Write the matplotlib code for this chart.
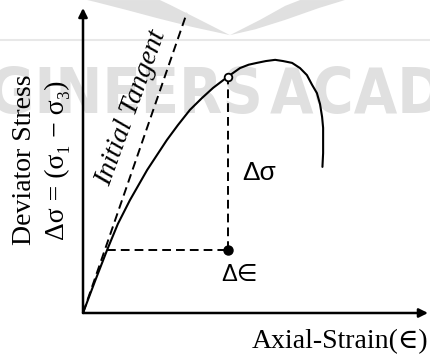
import matplotlib
matplotlib.use("Agg")
import matplotlib.pyplot as plt

# stress-strain curve (arbitrary units, axes run 0..10)
strain = [0.0, 0.35, 0.70, 1.01, 1.36, 1.86, 2.43, 2.75, 3.10, 3.45, 3.77, 4.20,
          4.55, 4.80, 5.04, 5.30, 5.57, 5.80, 6.06, 6.29, 6.49, 6.64, 6.78,
          6.87, 6.93, 6.96, 6.96, 6.96, 6.94]
stress = [0.0, 1.05, 2.07, 2.92, 3.70, 4.69, 5.67, 6.16, 6.66, 7.05, 7.38, 7.75,
          8.03, 8.14, 8.20, 8.26, 8.30, 8.26, 8.20, 8.03, 7.80, 7.48, 7.21,
          6.85, 6.43, 6.07, 5.67, 5.24, 4.79]

# initial tangent
tangent_strain = [0.0, 3.01]
tangent_stress = [0.0, 9.84]

# delta construction
base_strain = 0.70
base_stress = 2.07
point_strain = 4.20
point_stress = 7.75

serif = ['Liberation Serif', 'DejaVu Serif']
sans = ['Liberation Sans', 'DejaVu Sans']

fig = plt.figure(figsize=(4.3, 3.56), dpi=100)
ax = fig.add_axes([0, 0, 1, 1])
ax.set_xlim(-2.406, 10.058)
ax.set_ylim(-1.410, 10.262)
ax.axis('off')

# watermark
wm = '#e0e0e0'
ax.text(5.25, 6.56, 'ENGINEERS', ha='right', va='baseline', fontsize=45,
        family='DejaVu Sans', stretch='condensed', weight='bold', color=wm, zorder=0)
ax.text(5.40, 6.56, 'ACADEMY', ha='left', va='baseline', fontsize=45,
        family='DejaVu Sans', stretch='condensed', weight='bold', color=wm, zorder=0)
ax.axhline(8.95, color='#e8e8e8', lw=1.5, zorder=0)
wing_l_x = [0.12, 2.23, 2.53, 3.39, 4.26, 3.16, 2.14, 1.28, 0.35]
wing_l_y = [10.26, 10.26, 10.10, 9.61, 9.11, 9.38, 9.67, 9.93, 10.20]
wing_r_x = [4.26, 5.13, 5.86, 6.29, 7.59, 6.84, 5.86, 4.99]
wing_r_y = [9.11, 9.61, 10.07, 10.26, 10.26, 10.0, 9.61, 9.30]
ax.fill(wing_l_x, wing_l_y, color=wm, lw=0, zorder=0)
ax.fill(wing_r_x, wing_r_y, color=wm, lw=0, zorder=0)

# axes with arrows
arrow = dict(arrowstyle='-|>', lw=1.8, color='black', mutation_scale=13,
             shrinkA=0, shrinkB=0)
ax.annotate('', xy=(10.0, 0), xytext=(0, 0), arrowprops=arrow)
ax.annotate('', xy=(0, 10.0), xytext=(0, 0), arrowprops=arrow)

# curve and tangent
ax.plot(strain, stress, color='black', lw=1.5, solid_capstyle='round',
        solid_joinstyle='round', zorder=3)
ax.plot(tangent_strain, tangent_stress, color='black', lw=1.4,
        linestyle=(0, (4.5, 2.6)), zorder=3)

# delta construction
ax.plot([base_strain, point_strain], [base_stress, base_stress], color='black',
        lw=1.4, linestyle=(0, (4.5, 2.6)), zorder=3)
ax.plot([point_strain, point_strain], [base_stress, point_stress], color='black',
        lw=1.4, linestyle=(0, (4.5, 2.6)), zorder=3)
ax.plot(point_strain, base_stress, 'o', color='black', ms=6.5, zorder=4)
ax.plot(point_strain, point_stress, 'o', mfc='white', mec='black', mew=1.3, ms=5.5, zorder=4)

# labels
ax.text(1.39, 6.72, 'Initial Tangent', rotation=70, ha='center', va='center',
        fontsize=20, family=serif, style='italic')
ax.text(-1.71, 5.02, 'Deviator Stress', rotation=90, ha='center', va='center',
        fontsize=20, family=serif)
ax.text(-0.75, 5.02, 'Δσ = (σ\u2081 − σ\u2083)', rotation=90, ha='center', va='center',
        fontsize=20, family=serif)
ax.text(5.10, 4.59, 'Δσ', ha='center', va='center', fontsize=19, family=sans)
ax.text(4.55, 1.25, 'Δ∈', ha='center', va='center', fontsize=17, family=sans)
ax.text(10.0, -1.15, 'Axial-Strain(∈)', ha='right', va='baseline',
        fontsize=20, family=serif)

fig.savefig('out.png', dpi=100)
